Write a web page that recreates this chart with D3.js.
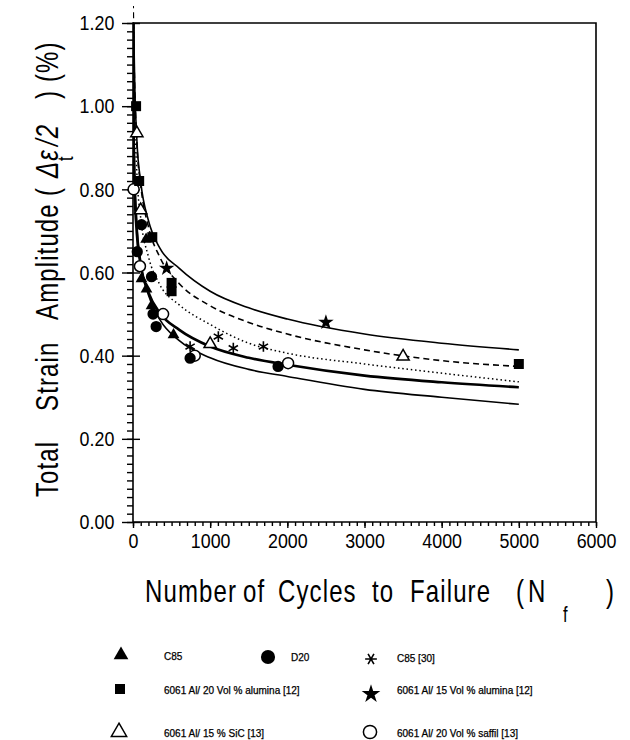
<!DOCTYPE html>
<html><head><meta charset="utf-8">
<script src="https://cdn.jsdelivr.net/npm/d3@7"></script>
<style>body{margin:0;background:#fff} svg{display:block}</style>
</head><body><svg id="c" width="630" height="740"></svg>
<script>
// ---------- data ----------
const xTicks = [0, 1000, 2000, 3000, 4000, 5000, 6000];
const yTicks = [0, 0.2, 0.4, 0.6, 0.8, 1.0, 1.2];

// fitted curves
const fitN      = [2, 10, 20, 50, 100, 200, 350, 600, 1000, 1500, 2000, 3000, 4000, 5000];
const fitUpper  = [1.60, 1.22, 1.08, 0.92, 0.818, 0.725, 0.658, 0.61, 0.555, 0.515, 0.488, 0.452, 0.430, 0.414];
const fitDashed = [1.25, 1.15, 1.06, 0.91, 0.81, 0.71, 0.636, 0.573, 0.52, 0.48, 0.452, 0.414, 0.388, 0.374];
const fitDotted = [1.50, 1.154, 1.006, 0.839, 0.731, 0.638, 0.570, 0.522, 0.475, 0.43, 0.406, 0.38, 0.358, 0.337];
const fitThick  = [1.30, 0.90, 0.806, 0.693, 0.618, 0.552, 0.502, 0.462, 0.422, 0.395, 0.378, 0.352, 0.336, 0.324];
const fitLower  = [1.40, 1.00, 0.87, 0.722, 0.627, 0.546, 0.486, 0.436, 0.395, 0.367, 0.350, 0.319, 0.300, 0.283];

// experimental points
const c85N    = [110, 170, 175, 240, 525];
const c85V    = [0.585, 0.68, 0.56, 0.52, 0.45];
const d20N    = [55, 110, 240, 260, 300, 740, 1880];
const d20V    = [0.65, 0.715, 0.59, 0.50, 0.47, 0.394, 0.374];
const c85RefN = [740, 1106, 1300, 1690];
const c85RefV = [0.422, 0.446, 0.418, 0.422];
const al20N   = [40, 80, 250, 500, 500, 5000];
const al20V   = [1.0, 0.82, 0.685, 0.575, 0.555, 0.38];
const al15N   = [436, 2500];
const al15V   = [0.61, 0.48];
const sicN    = [50, 100, 1000, 3500];
const sicV    = [0.935, 0.75, 0.428, 0.398];
const saffilN = [8, 90, 390, 800, 2010];
const saffilV = [0.80, 0.615, 0.50, 0.40, 0.382];

const seriesLabels = ["C85", "D20", "C85 [30]",
  "6061 Al/ 20 Vol % alumina [12]", "6061 Al/ 15 Vol % alumina [12]",
  "6061 Al/ 15 % SiC [13]", "6061 Al/ 20 Vol % saffil [13]"];

// ---------- drawing ----------
const FONT = "'Liberation Sans', Arial, sans-serif";
const svg = d3.select('#c');
const x = d3.scaleLinear().domain([0, 6000]).range([133, 596]);
const y = d3.scaleLinear().domain([0, 1.2]).range([522, 23]);

svg.append('clipPath').attr('id', 'plot').append('rect')
  .attr('x', x(0)).attr('y', y(1.2)).attr('width', x(6000) - x(0)).attr('height', y(0) - y(1.2));
svg.append('clipPath').attr('id', 'plotTall').append('rect')
  .attr('x', x(0)).attr('y', 6).attr('width', x(6000) - x(0)).attr('height', y(0) - 6);

// axes
const TSX = 0.85; // condensed tick lettering
function styleAxis(g) {
  g.selectAll('.domain').remove();
  g.selectAll('line').attr('stroke', '#000').attr('stroke-width', 1.4);
  g.selectAll('text').attr('font-family', FONT).attr('font-size', 21).attr('fill', '#000')
    .attr('transform', `scale(${TSX},1)`);
}
svg.append('g').attr('transform', `translate(${x(0)},0)`)
  .call(d3.axisLeft(y).tickValues(d3.range(0, 61).map(i => i * 0.02)).tickSize(6).tickFormat(''))
  .call(styleAxis);
svg.append('g').attr('transform', `translate(${x(0)},0)`)
  .call(d3.axisLeft(y).tickValues(yTicks).tickSize(11).tickPadding(11).tickFormat(d3.format('.2f')))
  .call(styleAxis);
svg.append('g').attr('transform', `translate(${x(0)},0)`)
  .call(d3.axisRight(y).tickValues(yTicks).tickSize(7).tickFormat(''))
  .call(styleAxis);
svg.append('g').attr('transform', `translate(0,${y(0)})`)
  .call(d3.axisBottom(x).tickValues(d3.range(0, 61).map(i => i * 100)).tickSize(4).tickFormat(''))
  .call(styleAxis);
svg.append('g').attr('transform', `translate(0,${y(0)})`)
  .call(d3.axisBottom(x).tickValues(xTicks).tickSize(6).tickPadding(5).tickFormat(d3.format('d')))
  .call(styleAxis);

// frame
svg.append('path')
  .attr('d', `M${x(0)},${y(0)}V${y(1.2)}H${x(6000)}V${y(0)}Z`)
  .attr('fill', 'none').attr('stroke', '#000').attr('stroke-width', 1.6);

// fitted curves
const line = d3.line().x(d => x(d[0])).y(d => y(d[1])).curve(d3.curveMonotoneX);
const curves = [
  {v: fitUpper, w: 1.6, dash: null, clip: 'plot'},
  {v: fitDashed, w: 1.6, dash: '6,4', clip: 'plotTall'},
  {v: fitDotted, w: 1.5, dash: '1.5,2.8', clip: 'plot'},
  {v: fitThick, w: 2.6, dash: null, clip: 'plot'},
  {v: fitLower, w: 1.6, dash: null, clip: 'plot'}
];
curves.forEach(c => {
  svg.append('path')
    .attr('d', line(fitN.map((n, i) => [n, c.v[i]])))
    .attr('fill', 'none').attr('stroke', '#000')
    .attr('stroke-width', c.w)
    .attr('stroke-dasharray', c.dash)
    .attr('clip-path', `url(#${c.clip})`);
});

// markers
const sym = {
  triFill:  {type: d3.symbolTriangle, size: 60, fill: '#000', stroke: 'none'},
  circFill: {type: d3.symbolCircle, size: 100, fill: '#000', stroke: 'none'},
  aster:    {type: d3.symbolAsterisk, size: 80, fill: 'none', stroke: '#000', sw: 1.6},
  sqFill:   {type: d3.symbolSquare, size: 100, fill: '#000', stroke: 'none'},
  star:     {type: d3.symbolStar, size: 75, fill: '#000', stroke: 'none'},
  triOpen:  {type: d3.symbolTriangle, size: 65, fill: '#fff', stroke: '#000', sw: 1.5},
  circOpen: {type: d3.symbolCircle, size: 95, fill: '#fff', stroke: '#000', sw: 1.5}
};
const pointSets = [
  {n: saffilN, v: saffilV, s: 'circOpen'},
  {n: sicN, v: sicV, s: 'triOpen'},
  {n: c85RefN, v: c85RefV, s: 'aster'},
  {n: al15N, v: al15V, s: 'star'},
  {n: al20N, v: al20V, s: 'sqFill'},
  {n: d20N, v: d20V, s: 'circFill'},
  {n: c85N, v: c85V, s: 'triFill'}
];
function drawSym(g, key, cx, cy, scale = 1, rot = 0) {
  const s = sym[key];
  g.append('path')
    .attr('d', d3.symbol().type(s.type).size(s.size * scale * scale)())
    .attr('transform', `translate(${cx},${cy}) rotate(${rot})`)
    .attr('fill', s.fill).attr('stroke', s.stroke).attr('stroke-width', s.sw || 0);
}
const mk = svg.append('g');
pointSets.forEach(ps => ps.n.forEach((n, i) => drawSym(mk, ps.s, x(n), y(ps.v[i]))));

// axis titles: condensed (tall, narrow) lettering; word starts given in page pixels
const SX = 0.75;
function title(g, parts) {
  const t = g.append('text').attr('font-family', FONT).attr('font-size', 32)
    .attr('letter-spacing', 1.5).attr('fill', '#000');
  parts.forEach(p => {
    t.append('tspan').attr('x', p.at / SX).attr('y', p.y || 0)
      .attr('font-size', p.fs || null)
      .attr('font-style', p.italic ? 'italic' : null)
      .text(p.s);
  });
}
title(svg.append('g').attr('transform', `translate(0,602) scale(${SX},1)`), [
  {s: 'Number', at: 145}, {s: 'of', at: 243}, {s: 'Cycles', at: 278},
  {s: 'to', at: 372}, {s: 'Failure', at: 410}, {s: '(', at: 516},
  {s: 'N', at: 528}, {s: 'f', at: 563, y: 20, fs: 22}, {s: ')', at: 606}
]);
title(svg.append('g').attr('transform', `translate(58,0) rotate(-90) scale(${SX},1)`), [
  {s: 'Total', at: -497}, {s: 'Strain', at: -411}, {s: 'Amplitude', at: -320},
  {s: '(', at: -196}, {s: 'Δε', at: -178, italic: true},
  {s: 't', at: -161, y: 15, fs: 22}, {s: '/2', at: -146, italic: true},
  {s: ')', at: -99}, {s: '(%)', at: -82}
]);

// legend
const lg = svg.append('g');
const legendItems = [
  {s: 'triFill',  sx: 121, sy: 655, tx: 164, ty: 660, rot: 0, sc: 1.25},
  {s: 'circFill', sx: 268, sy: 657, tx: 291, ty: 661, rot: 0, sc: 1.25},
  {s: 'aster',    sx: 371, sy: 659, tx: 397, ty: 662, rot: 90, sc: 1.1},
  {s: 'sqFill',   sx: 120, sy: 689, tx: 164, ty: 694, rot: 0, sc: 1.0},
  {s: 'star',     sx: 371, sy: 694, tx: 397, ty: 694, rot: 0, sc: 1.2},
  {s: 'triOpen',  sx: 119, sy: 732, tx: 164, ty: 737, rot: 0, sc: 1.25},
  {s: 'circOpen', sx: 370, sy: 732, tx: 397, ty: 737, rot: 0, sc: 1.2}
];
legendItems.forEach((it, i) => {
  drawSym(lg, it.s, it.sx, it.sy, it.sc, it.rot);
  lg.append('text').attr('x', it.tx).attr('y', it.ty)
    .attr('font-family', FONT).attr('font-size', 10).attr('fill', '#000')
    .attr('stroke', '#000').attr('stroke-width', 0.25)
    .text(seriesLabels[i]);
});
</script></body></html>
